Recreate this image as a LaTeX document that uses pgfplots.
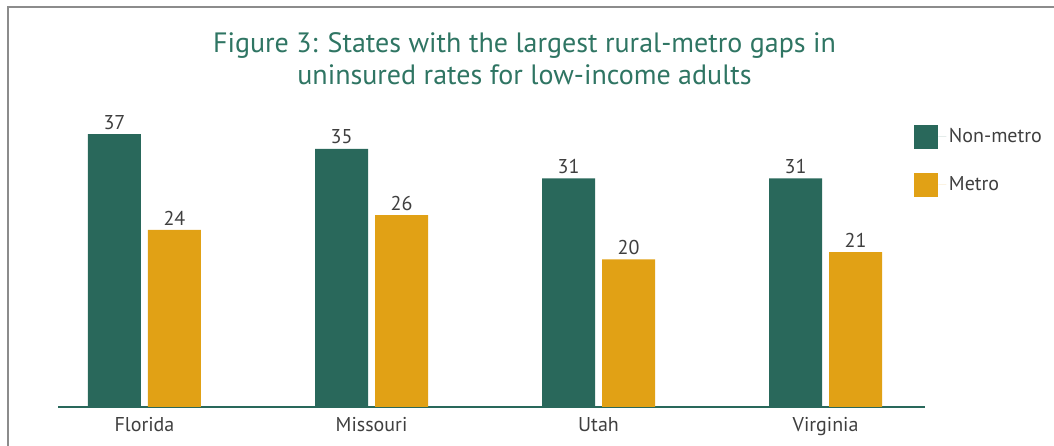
\documentclass[border=0pt]{standalone}
\usepackage{fontspec}
\setmainfont{PT Sans}
\usepackage{pgfplots}
\pgfplotsset{compat=1.18}
\definecolor{nonmetro}{HTML}{29685B}
\definecolor{metro}{HTML}{E1A115}
\definecolor{titlegreen}{HTML}{2F7563}
\definecolor{txt}{HTML}{3F3F3F}
\definecolor{frame}{HTML}{8C8C8C}
\begin{document}
\begin{tikzpicture}
% frame (only top and left edges are inside the picture)
\draw[frame, line width=1.1pt] (6pt,0pt) -- (6pt,329.25pt) -- (790.5pt,329.25pt);
\node[titlegreen, font=\fontsize{21}{24}\selectfont, align=center] at (393.4pt,290.5pt)
  {Figure 3: States with the largest rural-metro gaps in\\uninsured rates for low-income adults};
\begin{axis}[
    at={(43.5pt,29.25pt)}, anchor=south west,
    scale only axis,
    width=650.25pt, height=221.3pt,
    xmin=-0.381, xmax=3.438,
    ymin=0, ymax=40,
    axis x line=bottom,
    hide y axis,
    x axis line style={-, nonmetro, line width=1pt},
    xtick=data,
    xticklabels={Florida,Missouri,Utah,Virginia},
    major tick length=0pt,
    xticklabel style={font=\fontsize{15}{18}\selectfont, text=txt, yshift=-4.5pt},
    /pgf/number format/assume math mode=true,
    ybar, bar width=39.75pt,
    nodes near coords,
    every node near coord/.append style={font=\fontsize{15}{18}\selectfont, text=txt},
    legend style={at={(rel axis cs:0.9873,0.958)}, anchor=north west, draw=none, fill=none,
        font=\fontsize{15}{18}\selectfont, text=txt, row sep=18pt, inner sep=0pt},
    legend cell align=left,
    legend image code/.code={\fill[#1, draw=none] (0pt,-9pt) rectangle (18pt,9pt);
        \path (18pt,0pt) -- (24pt,0pt);},
]
\addplot[fill=nonmetro, draw=none, bar shift=-22.5pt] coordinates {(0,37) (1,35) (2,31) (3,31)};
\addplot[fill=metro, draw=none, bar shift=22.5pt] coordinates {(0,24) (1,26) (2,20) (3,21)};
\legend{Non-metro, Metro}
\end{axis}
\pgfresetboundingbox
\path[use as bounding box] (0,0) rectangle (790.5pt,334.5pt);
\end{tikzpicture}
\end{document}
